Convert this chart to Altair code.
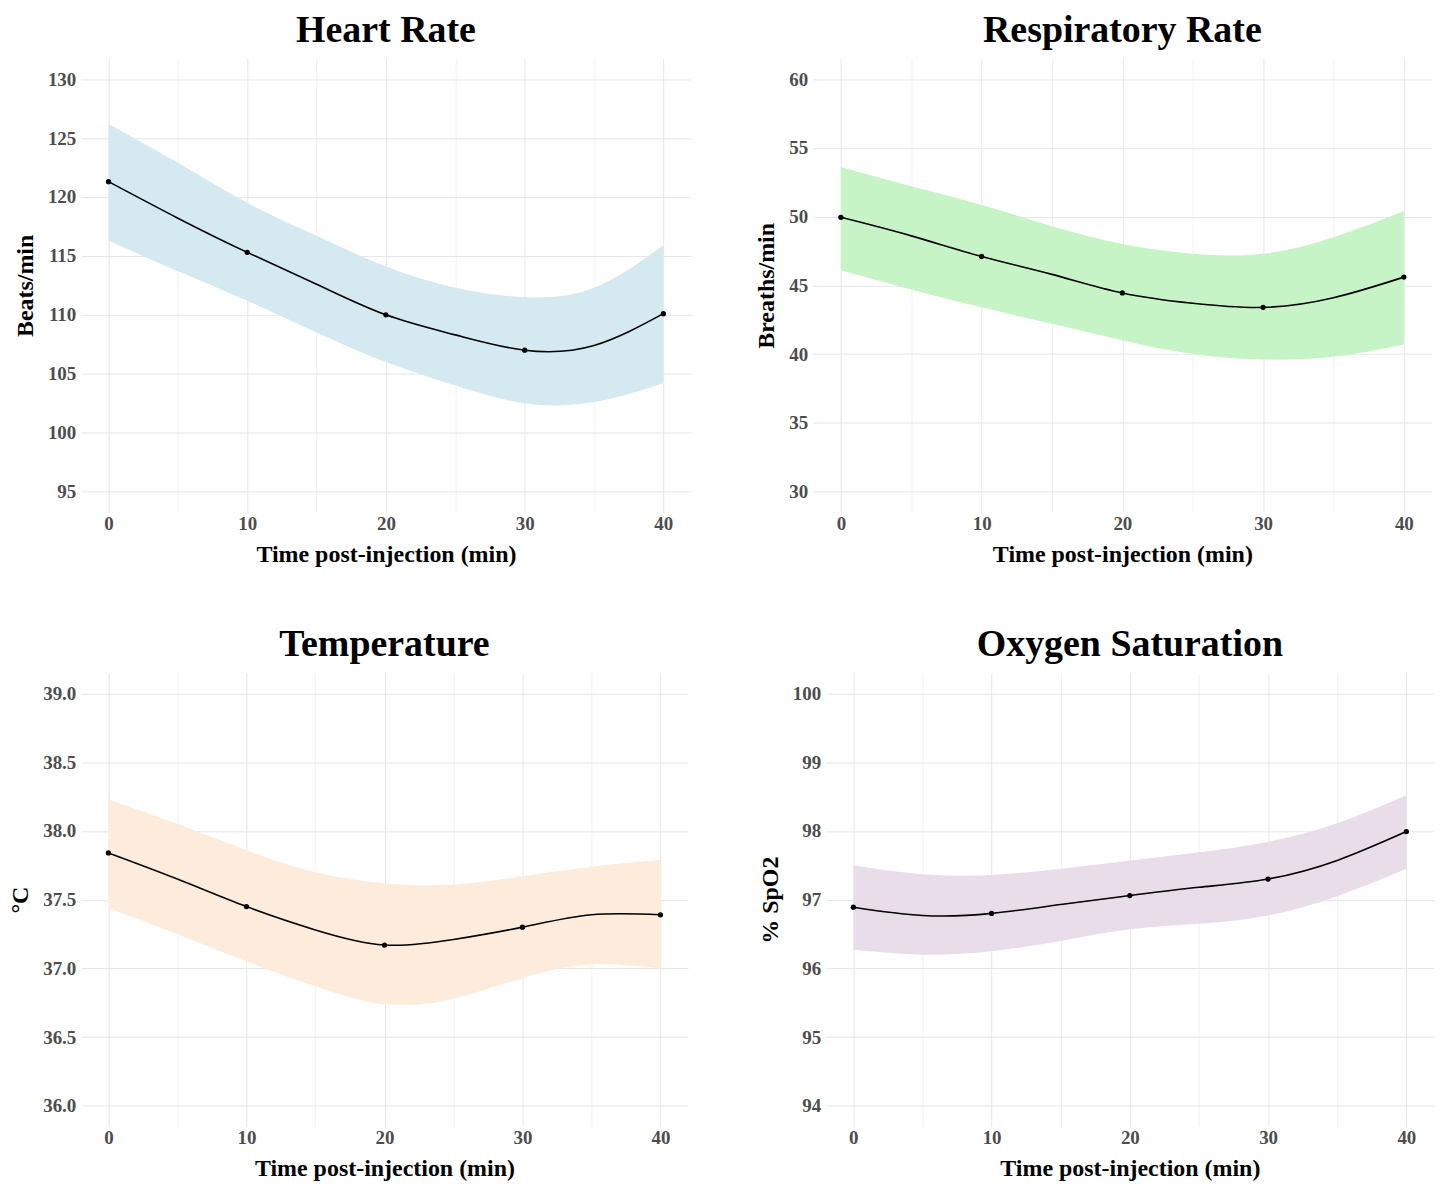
import altair as alt
import pandas as pd

# ---- data ----
times = [0, 10, 20, 30, 40]
curve_t = [0, 5, 10, 15, 20, 25, 30, 35, 40]

hr_points = [121.3, 115.3, 110.0, 107.0, 110.1]
hr_fit = [121.3, 118.2, 115.3, 112.6, 110.0, 108.3, 107.0, 107.4, 110.1]
hr_upper = [126.2, 122.9, 119.5, 116.7, 114.1, 112.3, 111.5, 112.3, 115.9]
hr_lower = [116.3, 113.7, 111.2, 108.5, 106.0, 104.0, 102.5, 102.6, 104.2]

rr_points = [49.95, 47.1, 44.45, 43.4, 45.6]
rr_fit = [49.95, 48.6, 47.1, 45.8, 44.45, 43.7, 43.4, 44.1, 45.6]
rr_upper = [53.6, 52.2, 50.85, 49.3, 48.0, 47.3, 47.3, 48.5, 50.4]
rr_lower = [46.1, 44.7, 43.4, 42.2, 41.0, 40.0, 39.6, 39.8, 40.7]

tp_points = [37.84, 37.45, 37.17, 37.30, 37.39]
tp_fit = [37.84, 37.65, 37.45, 37.28, 37.17, 37.21, 37.30, 37.39, 37.39]
tp_upper = [38.23, 38.05, 37.86, 37.70, 37.62, 37.61, 37.67, 37.74, 37.79]
tp_lower = [37.44, 37.25, 37.05, 36.87, 36.74, 36.78, 36.93, 37.03, 37.00]

o2_points = [96.89, 96.80, 97.06, 97.30, 97.99]
o2_fit = [96.89, 96.77, 96.80, 96.93, 97.06, 97.18, 97.30, 97.57, 97.99]
o2_upper = [97.50, 97.37, 97.36, 97.45, 97.57, 97.69, 97.84, 98.11, 98.52]
o2_lower = [96.27, 96.20, 96.25, 96.40, 96.57, 96.65, 96.77, 97.05, 97.45]

titles = ["Heart Rate", "Respiratory Rate", "Temperature", "Oxygen Saturation"]
y_titles = ["Beats/min", "Breaths/min", "°C", "% SpO2"]
fills = ["#d4e9f0", "#c6f4c6", "#fdebdc", "#e9dde9"]

y_major = [
    [95, 100, 105, 110, 115, 120, 125, 130],
    [30, 35, 40, 45, 50, 55, 60],
    [36.0, 36.5, 37.0, 37.5, 38.0, 38.5, 39.0],
    [94, 95, 96, 97, 98, 99, 100],
]
y_fmt = ["d", "d", ".1f", "d"]
x_major = [0, 10, 20, 30, 40]
x_minor = [5, 15, 25, 35]

FONT = "Liberation Serif"
WIDTHS = [612, 621, 609, 610]
H = 455


def panel(i, points, fit, upper, lower):
    major = y_major[i]
    step = major[1] - major[0]
    minor = [round(m + step / 2, 4) for m in major[:-1]]
    lo, hi = major[0], major[-1]
    pad = (hi - lo) * 0.05
    ydom = [lo - pad, hi + pad]
    major_js = "[" + ",".join(str(v) for v in major) + "]"
    xmaj_js = "[" + ",".join(str(v) for v in x_major) + "]"

    curve = pd.DataFrame({"t": curve_t, "fit": fit, "upper": upper, "lower": lower})
    pts = pd.DataFrame({"t": times, "v": points})

    xax = alt.Axis(
        values=sorted(x_major + x_minor), title="Time post-injection (min)",
        labelExpr=f"indexof({xmaj_js}, datum.value) >= 0 ? datum.label : ''",
        ticks=False, domain=False, labelOverlap=False,
        gridColor={"condition": {"test": f"indexof({xmaj_js}, datum.value) >= 0", "value": "#e6e6e6"}, "value": "#f1f1f1"},
        labelFont=FONT, labelFontSize=19, labelFontWeight="bold", labelColor="#4d4d4d",
        labelPadding=2, titleFont=FONT, titleFontSize=24, titleFontWeight="bold",
        titleColor="#000000", titlePadding=9,
    )
    yax = alt.Axis(
        values=sorted(major + minor), title=y_titles[i], format=y_fmt[i],
        labelExpr=f"indexof({major_js}, datum.value) >= 0 ? datum.label : ''",
        ticks=False, domain=False, labelOverlap=False,
        gridColor={"condition": {"test": f"indexof({major_js}, datum.value) >= 0", "value": "#e6e6e6"}, "value": "#f1f1f1"},
        labelFont=FONT, labelFontSize=19, labelFontWeight="bold", labelColor="#4d4d4d",
        labelPadding=5, titleFont=FONT, titleFontSize=24, titleFontWeight="bold",
        titleColor="#000000", titlePadding=10,
    )
    xs = alt.Scale(domain=[-2, 42], nice=False, zero=False)
    ys = alt.Scale(domain=ydom, nice=False, zero=False)

    base = alt.Chart(curve)
    band = base.mark_area(color=fills[i], opacity=1, interpolate="natural").encode(
        x=alt.X("t:Q", scale=xs, axis=xax),
        y=alt.Y("upper:Q", scale=ys, axis=yax),
        y2="lower:Q",
    )
    line = base.mark_line(color="black", strokeWidth=1.6, interpolate="natural").encode(
        x=alt.X("t:Q", scale=xs), y=alt.Y("fit:Q", scale=ys)
    )
    dots = alt.Chart(pts).mark_circle(color="black", opacity=1, size=28).encode(
        x=alt.X("t:Q", scale=xs), y=alt.Y("v:Q", scale=ys)
    )
    return alt.layer(band, line, dots).properties(
        width=WIDTHS[i], height=H,
        title=alt.Title(titles[i], font=FONT, fontSize=38, fontWeight="bold",
                        color="#000000", anchor="middle", frame="group", offset=9),
    )


p1 = panel(0, hr_points, hr_fit, hr_upper, hr_lower)
p2 = panel(1, rr_points, rr_fit, rr_upper, rr_lower)
p3 = panel(2, tp_points, tp_fit, tp_upper, tp_lower)
p4 = panel(3, o2_points, o2_fit, o2_upper, o2_lower)

chart = alt.vconcat(
    alt.hconcat(p1, p2, spacing=64),
    alt.hconcat(p3, p4, spacing=70),
    spacing=60,
).configure(
    background="white",
    padding={"left": 0, "top": 2, "right": 0, "bottom": 0},
).configure_view(stroke=None)

chart.save("out.html", embed_options={"renderer": "svg", "actions": False})
